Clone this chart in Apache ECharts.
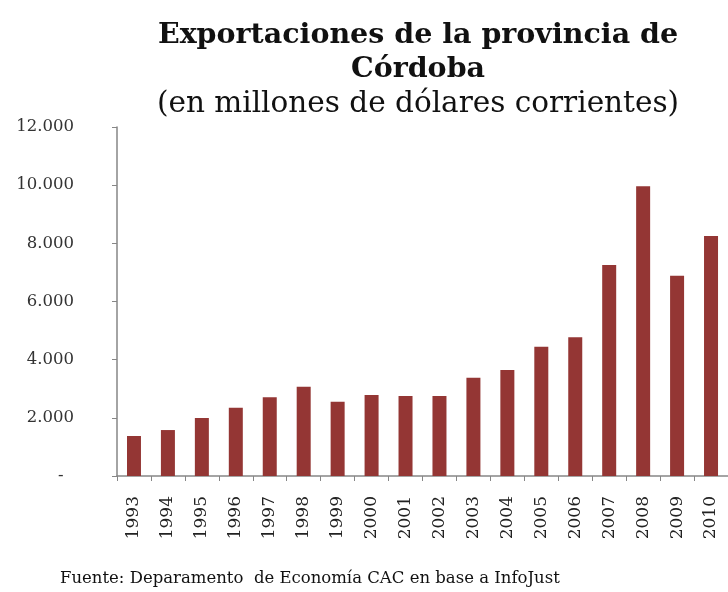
<!DOCTYPE html>
<html>
<head>
<meta charset="utf-8">
<script src="https://cdn.jsdelivr.net/npm/echarts@6/dist/echarts.min.js"></script>
<style>html,body{margin:0;padding:0;background:#fff}#c{width:728px;height:592px}</style>
</head>
<body>
<div id="c"></div>
<script>
var years = ['1993','1994','1995','1996','1997','1998','1999','2000','2001','2002','2003','2004','2005','2006','2007','2008','2009','2010'];
var exportsValues = [1375, 1580, 1995, 2350, 2705, 3070, 2555, 2785, 2750, 2750, 3380, 3645, 4445, 4770, 7255, 9960, 6885, 8250];
var yTicks = [0, 2000, 4000, 6000, 8000, 10000, 12000];
var titleText = 'Exportaciones de la provincia de\nCórdoba';
var subtitleText = '(en millones de dólares corrientes)';
var sourceText = 'Fuente: Deparamento  de Economía CAC en base a InfoJust';

var font = 'DejaVu Serif';
var chart = echarts.init(document.getElementById('c'));
chart.setOption({
  animation: false,
  title: [{
    text: titleText,
    subtext: subtitleText,
    left: 413, top: 14, textAlign: 'center',
    itemGap: 0,
    textStyle: {fontFamily: font, fontWeight: 'bold', fontSize: 28.5, color: '#111', lineHeight: 34},
    subtextStyle: {fontFamily: font, fontWeight: 'normal', fontSize: 29.5, color: '#111', lineHeight: 34}
  }, {
    text: sourceText,
    left: 55, top: 565,
    textStyle: {fontFamily: font, fontWeight: 'normal', fontSize: 16.5, color: '#111'}
  }],
  grid: {left: 117, right: -6, top: 127, bottom: 116, containLabel: false},
  xAxis: {
    type: 'category', data: years,
    axisLine: {lineStyle: {color: '#868686', width: 1.5}},
    axisTick: {show: true, alignWithLabel: false, length: 5, lineStyle: {color: '#868686'}},
    axisLabel: {rotate: 90, margin: 20, fontFamily: font, fontSize: 17, color: '#222'}
  },
  yAxis: {
    type: 'value', min: 0, max: 12000, interval: 2000,
    splitLine: {show: false},
    axisLine: {show: true, lineStyle: {color: '#868686', width: 1.5}},
    axisTick: {show: true, length: 5, lineStyle: {color: '#868686'}},
    axisLabel: {
      margin: 43, fontFamily: font, fontSize: 16.5, color: '#333', align: 'right',
      formatter: function (v) { return v === 0 ? '-  ' : v.toLocaleString('de-DE'); }
    }
  },
  series: [{
    type: 'bar', data: exportsValues, barWidth: 14,
    itemStyle: {color: '#943634'}
  }]
});
</script>
</body>
</html>
